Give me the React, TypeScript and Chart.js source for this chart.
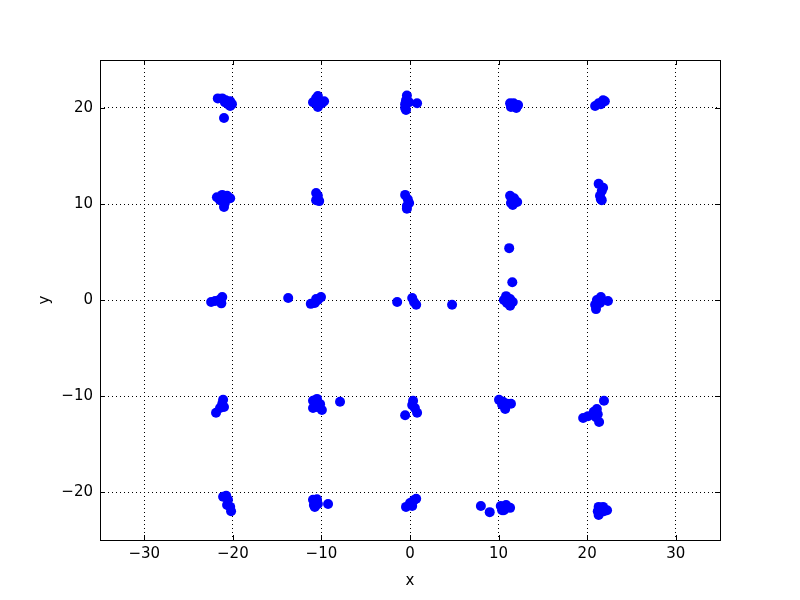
import React, { useEffect, useRef } from "react";
import { Chart, registerables } from "chart.js";

Chart.register(...registerables);

const row20: [number, number][] = [
  [-21.7, 21.0], [-21.2, 21.0], [-20.8, 20.8], [-20.3, 20.7], [-20.1, 20.4], [-20.55, 20.4], [-20.9, 20.6], [-20.3, 20.2], [-21.0, 18.95],
  [-10.6, 21.0], [-10.4, 21.25], [-10.95, 20.6], [-10.4, 20.4], [-9.95, 20.5], [-9.7, 20.7], [-10.4, 20.1],
  [-0.35, 21.3], [-0.45, 20.8], [-0.55, 20.4], [-0.55, 20.0], [-0.45, 19.8], [-0.1, 20.6], [0.8, 20.5],
  [11.3, 20.5], [11.7, 20.5], [12.2, 20.3], [11.4, 20.1], [12.0, 20.0],
  [20.9, 20.2], [21.3, 20.5], [21.8, 20.8], [22.0, 20.7], [21.55, 20.4],
];
const row10: [number, number][] = [
  [-21.8, 10.7], [-21.2, 10.95], [-20.65, 10.85], [-20.3, 10.6], [-21.45, 10.4], [-20.9, 10.1], [-21.0, 9.7],
  [-10.6, 11.15], [-10.4, 10.85], [-10.6, 10.4], [-10.25, 10.3],
  [-0.55, 10.95], [-0.25, 10.5], [-0.1, 10.1], [-0.35, 9.8], [-0.35, 9.5],
  [11.3, 10.85], [11.75, 10.6], [12.1, 10.2], [11.4, 10.1], [11.6, 9.9], [11.2, 5.4], [11.55, 1.85],
  [21.3, 12.1], [21.8, 11.7], [21.65, 11.35], [21.45, 10.85], [21.55, 10.5], [21.65, 10.4],
];
const row0: [number, number][] = [
  [-22.45, -0.2], [-22.0, -0.1], [-21.55, 0.0], [-21.2, 0.3], [-21.3, -0.35],
  [-13.75, 0.2],
  [-11.2, -0.4], [-10.75, -0.3], [-10.4, 0.0], [-10.05, 0.3], [-10.6, 0.1],
  [-1.45, -0.2],
  [0.25, 0.2], [0.45, -0.2], [0.7, -0.5],
  [4.75, -0.5],
  [10.85, 0.4], [10.6, 0.0], [11.3, 0.1], [11.6, -0.2], [11.3, -0.6], [10.95, -0.3],
  [20.9, -0.5], [21.1, 0.0], [21.55, 0.3], [22.35, -0.1], [21.0, -0.95], [21.45, -0.3],
];
const rowMinus10: [number, number][] = [
  [-21.1, -10.4], [-21.2, -10.8], [-21.45, -11.25], [-21.9, -11.75], [-21.0, -11.15],
  [-10.5, -10.3], [-10.95, -10.5], [-10.15, -10.85], [-10.95, -11.25], [-9.95, -11.45], [-10.5, -11.15], [-7.9, -10.6],
  [0.35, -10.5], [0.25, -10.95], [0.55, -11.25], [0.8, -11.75], [-0.55, -12.0],
  [10.05, -10.4], [10.5, -10.6], [10.95, -10.8], [10.75, -11.35], [10.4, -10.9], [11.4, -10.8],
  [19.55, -12.3], [20.1, -12.1], [20.75, -11.65], [21.1, -11.35], [21.0, -12.2], [21.35, -12.7], [21.2, -11.9], [21.9, -10.5],
];
const rowMinus20: [number, number][] = [
  [-21.1, -20.5], [-20.75, -20.4], [-20.55, -20.8], [-20.65, -21.35], [-20.3, -21.55], [-20.2, -22.0],
  [-10.95, -20.8], [-10.5, -20.75], [-10.85, -21.35], [-10.4, -21.25], [-10.75, -21.55], [-9.25, -21.25],
  [-0.45, -21.55], [0.0, -21.15], [0.45, -20.85], [0.7, -20.7], [0.25, -21.45],
  [8.0, -21.45], [9.0, -22.1],
  [10.25, -21.45], [10.4, -21.9], [10.85, -21.35], [11.3, -21.65], [10.6, -21.9],
  [21.3, -21.55], [21.8, -21.55], [21.45, -22.1], [21.9, -22.0], [21.2, -22.0], [21.3, -22.4], [22.25, -21.9],
];

const xTicks = [-30, -20, -10, 0, 10, 20, 30];
const yTicks = [-20, -10, 0, 10, 20];
const xRange = [-35, 35];
const yRange = [-25, 25];

const FONT = { family: "'DejaVu Sans', sans-serif", size: 15 };
const fmt = (v: number | string) => String(v).replace("-", "\u2212");

const framePlugin = {
  id: "frame",
  afterDraw(chart: any) {
    const { ctx, chartArea: a, scales } = chart;
    const L = 5;
    ctx.save();
    ctx.strokeStyle = "#000";
    ctx.lineWidth = 1;
    ctx.beginPath();
    for (const v of xTicks) {
      const px = Math.round(scales.x.getPixelForValue(v)) + 0.5;
      ctx.moveTo(px, a.bottom);
      ctx.lineTo(px, a.bottom - L);
      ctx.moveTo(px, a.top);
      ctx.lineTo(px, a.top + L);
    }
    for (const v of yTicks) {
      const py = Math.round(scales.y.getPixelForValue(v)) + 0.5;
      ctx.moveTo(a.left, py);
      ctx.lineTo(a.left + L, py);
      ctx.moveTo(a.right, py);
      ctx.lineTo(a.right - L, py);
    }
    ctx.stroke();
    ctx.strokeRect(Math.round(a.left) + 0.5, Math.round(a.top) + 0.5, Math.round(a.right - a.left), Math.round(a.bottom - a.top));
    ctx.restore();
  },
};

export default function App() {
  const ref = useRef<HTMLCanvasElement>(null);
  useEffect(() => {
    if (!ref.current) return;
    const points = [...row20, ...row10, ...row0, ...rowMinus10, ...rowMinus20].map(([x, y]) => ({ x, y }));
    const chart = new Chart(ref.current, {
      type: "scatter",
      data: {
        datasets: [
          {
            data: points,
            backgroundColor: "#0000ff",
            borderColor: "#0000ff",
            borderWidth: 0,
            pointRadius: 5,
            pointHoverRadius: 5,
          },
        ],
      },
      options: {
        animation: false,
        responsive: false,
        devicePixelRatio: 1,
        layout: { padding: { left: 0, top: 60, right: 80, bottom: 0 } },
        plugins: { legend: { display: false }, tooltip: { enabled: false } },
        scales: {
          x: {
            type: "linear",
            min: xRange[0],
            max: xRange[1],
            afterFit: (s: any) => { s.height = 60; },
            afterBuildTicks: (s: any) => { s.ticks = xTicks.map((value) => ({ value })); },
            ticks: { color: "#000", font: FONT, padding: 5, maxRotation: 0, callback: (v: any) => fmt(v) },
            grid: { color: "#000", lineWidth: 1, drawTicks: false },
            border: { display: false, dash: [1, 3] },
            title: { display: true, text: "x", color: "#000", font: FONT, padding: { top: 0, bottom: 10 } },
          },
          y: {
            type: "linear",
            min: yRange[0],
            max: yRange[1],
            afterFit: (s: any) => { s.width = 100; },
            afterBuildTicks: (s: any) => { s.ticks = yTicks.map((value) => ({ value })); },
            ticks: { color: "#000", font: FONT, padding: 7, callback: (v: any) => fmt(v) },
            grid: { color: "#000", lineWidth: 1, drawTicks: false },
            border: { display: false, dash: [1, 3] },
            title: { display: true, text: "y", color: "#000", font: FONT, padding: { top: 36, bottom: 0 } },
          },
        },
      },
      plugins: [framePlugin],
    });
    return () => chart.destroy();
  }, []);
  return (
    <div style={{ position: "absolute", left: 0, top: 0, width: 800, height: 600, background: "#fff" }}>
      <canvas ref={ref} width={800} height={600} style={{ width: 800, height: 600, display: "block" }} />
    </div>
  );
}
